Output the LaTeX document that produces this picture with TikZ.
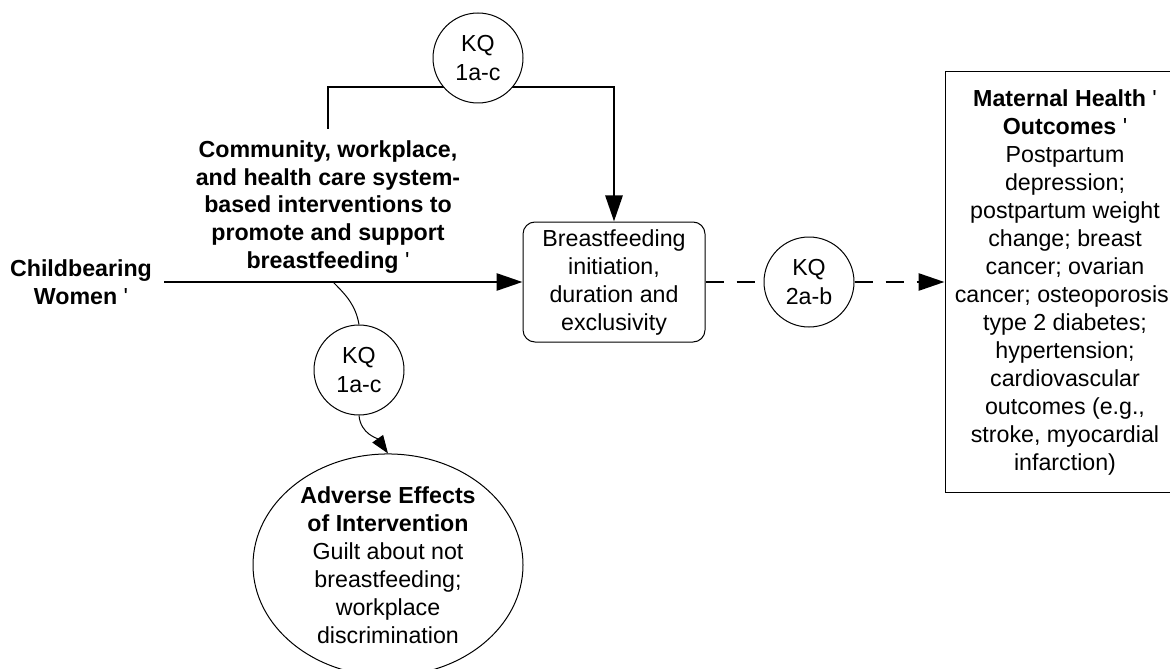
\documentclass[tikz,border=0pt]{standalone}
\usepackage{fontspec}
\setmainfont{Liberation Sans}
\usetikzlibrary{positioning,shapes.geometric,arrows.meta}
\tikzstyle{block} = [rectangle, draw, line width=0.5pt, inner sep=0pt, align=center, font=\fontsize{11.6}{14}\selectfont]
\tikzstyle{kq} = [circle, draw, line width=0.5pt, fill=white, minimum size=45pt, inner sep=0pt, align=center, font=\fontsize{11.6}{14.5}\selectfont]
\tikzstyle{note} = [align=center, font=\fontsize{11.6}{13.8}\selectfont\bfseries]
\tikzstyle{link} = [line width=1.4pt]
\tikzstyle{harm} = [line width=0.5pt, -{Triangle[length=9pt,width=6.5pt]}]

\begin{document}
\begin{tikzpicture}[node distance = 29pt and 29pt, >={Triangle[length=13pt,width=8.5pt]}]
        \useasboundingbox (0,0) rectangle (585pt,-334pt);

        \node [block, rounded corners=6pt, minimum width=91pt, minimum height=60pt] (feeding) at (307pt,-141pt) {Breastfeeding\\initiation,\\duration and\\exclusivity};
        \node [kq, right = of feeding] (kqtwo) {KQ\\2a-b};
        \node [block, right = 45pt of kqtwo, minimum width=120pt, minimum height=210pt] (maternal) {\textbf{Maternal Health} \textquotesingle\\\textbf{Outcomes} \textquotesingle\\Postpartum\\depression;\\postpartum weight\\change; breast\\cancer; ovarian\\cancer; osteoporosis;\\type 2 diabetes;\\hypertension;\\cardiovascular\\outcomes (e.g.,\\stroke, myocardial\\infarction)};
        \node [note, inner sep=6pt] (women) at (40.5pt,-141pt) {Childbearing\\Women \mdseries\textquotesingle};
        \node [note, inner sep=6pt] (interv) at (164pt,-103.5pt) {Community, workplace,\\and health care system-\\based interventions to\\promote and support\\breastfeeding \mdseries\textquotesingle};
        \coordinate (bend) at (0,-43.5pt);
        \coordinate (split) at (166.5pt,-141pt);

        \draw [link, ->] (women) -- (feeding);
        \draw [link, ->] (interv.north) |- (feeding.north |- bend) -- (feeding.north);
        \draw [link, dash pattern=on 9pt off 6.5pt] (feeding) -- (kqtwo);
        \draw [link, ->, dash pattern=on 9pt off 6.5pt] (kqtwo) -- (maternal);
        \node [kq] (kqtop) at (239pt,-29pt) {KQ\\1a-c};

        \node [kq] (kqlow) at (179.5pt,-185pt) {KQ\\1a-c};
        \node [ellipse, draw, line width=0.5pt, minimum width=135pt, minimum height=104pt, inner sep=0pt, align=center, font=\fontsize{11.6}{14}\selectfont] (adverse) at (194pt,-282.5pt) {\textbf{Adverse Effects}\\\textbf{of Intervention}\\Guilt about not\\breastfeeding;\\workplace\\discrimination};
        \draw [line width=0.5pt] (split) to[out=-45, in=100] (kqlow.north);
        \draw [harm] (kqlow.south) to[out=-85, in=125] (adverse.north);
\end{tikzpicture}
\end{document}
